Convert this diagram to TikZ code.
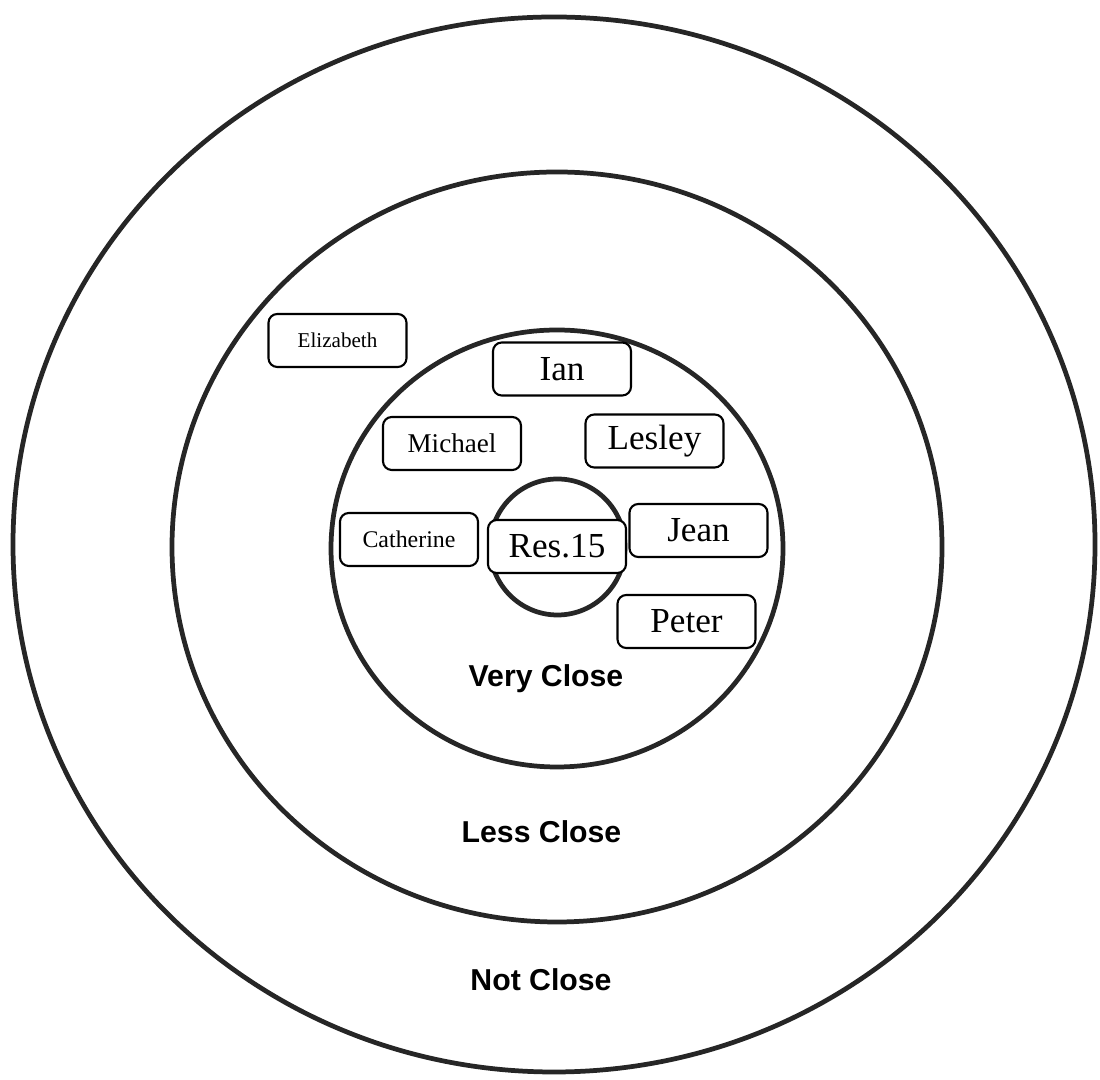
\documentclass[tikz,border=0pt]{standalone}
\usepackage{fontspec}
\setmainfont{Liberation Serif}
\setsansfont{Liberation Sans}
\usetikzlibrary{positioning}

\begin{document}
\begin{tikzpicture}[
  ring/.style={draw=black!85, line width=1.35pt},
  person/.style={draw=black, line width=0.6pt, fill=white,
                 rounded corners=2.5pt, minimum width=1.38cm,
                 minimum height=0.53cm, inner sep=0pt, font=\fontsize{10}{12}\selectfont},
  zone/.style={anchor=base, font=\sffamily\bfseries\fontsize{8.6}{10}\selectfont}
]
\useasboundingbox (0,0) rectangle (11,10.8);
\draw[ring] (5.54,5.355) ellipse [x radius=5.41, y radius=5.275];
\draw[ring] (5.57,5.33) ellipse [x radius=3.85, y radius=3.75];
\draw[ring] (5.57,5.315) ellipse [x radius=2.26, y radius=2.185];
\draw[ring] (5.575,5.33) ellipse [x radius=0.675, y radius=0.68];

\node[person, font=\fontsize{6}{7}\selectfont] (eliz) at (3.375,7.395) {Elizabeth};
\node[person] (ian) at (5.62,7.11) {Ian};
\node[person, font=\fontsize{7.7}{9}\selectfont] (michael) at (4.52,6.365) {Michael};
\node[person] (lesley) at (6.545,6.39) {Lesley};
\node[person, font=\fontsize{6.8}{8}\selectfont] (cath) at (4.09,5.405) {Catherine};
\node[person] (res) at (5.57,5.335) {Res.15};
\node[person] (jean) at (6.985,5.495) {Jean};
\node[person] (peter) at (6.865,4.585) {Peter};

\node[zone] (very) at (5.46,3.93) {Very Close};
\node[zone] (less) at (5.415,2.37) {Less Close};
\node[zone] (notc) at (5.41,0.89) {Not Close};
\end{tikzpicture}
\end{document}
